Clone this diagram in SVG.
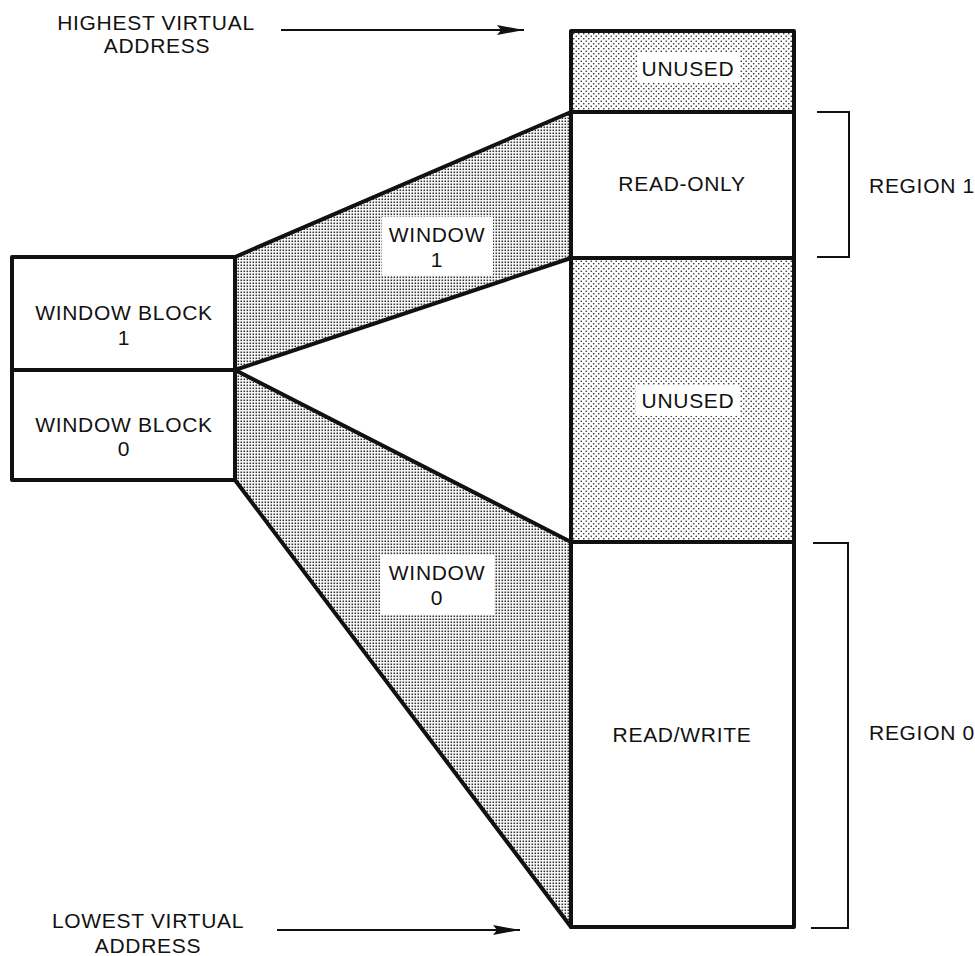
<svg xmlns="http://www.w3.org/2000/svg" width="975" height="956" viewBox="0 0 975 956">
<style>
text{font-family:"Liberation Sans",Arial,sans-serif;font-size:21px;fill:#111;text-anchor:middle;letter-spacing:0.7px}
.box{stroke:#111;stroke-width:4;stroke-linejoin:round}
.win{fill:url(#fine);stroke:#111;stroke-width:4;stroke-linejoin:round}
.br{fill:none;stroke:#111;stroke-width:2}
.arr{stroke:#111;stroke-width:2;fill:none;marker-end:url(#ah)}
.lbl{fill:#fff;stroke:none}
</style>
<defs>
<pattern id="coarse" patternUnits="userSpaceOnUse" width="5" height="5">
<rect width="5" height="5" fill="#fff"/>
<circle cx="1.25" cy="1.25" r="0.8" fill="#222"/>
<circle cx="3.75" cy="3.75" r="0.8" fill="#222"/>
</pattern>
<pattern id="fine" patternUnits="userSpaceOnUse" width="3" height="3">
<rect width="3" height="3" fill="#fff"/>
<rect x="0.5" y="0.5" width="1.6" height="1.6" fill="#333"/>
</pattern>
<marker id="ah" markerUnits="userSpaceOnUse" markerWidth="30" markerHeight="12" refX="27" refY="5" orient="auto">
<path d="M0,0 L27,5 L0,10 L4,5 Z" fill="#111"/>
</marker>
</defs>
<rect width="975" height="956" fill="#fff"/>

<g id="window-1">
<polygon class="win" points="235,257 571,112 571,258 235,370"/>
<rect class="lbl" x="382" y="217" width="111" height="58"/>
<text x="437" y="242">WINDOW</text>
<text x="437" y="267">1</text>
</g>
<g id="window-0">
<polygon class="win" points="235,370 571,542 571,927 235,480"/>
<rect class="lbl" x="380" y="555" width="114" height="60"/>
<text x="437" y="580">WINDOW</text>
<text x="437" y="605">0</text>
</g>

<g id="window-block-1">
<rect class="box" x="12" y="257" width="223" height="113" fill="#fff"/>
<text x="124" y="320">WINDOW BLOCK</text>
<text x="124" y="345">1</text>
</g>
<g id="window-block-0">
<rect class="box" x="12" y="370" width="223" height="110" fill="#fff"/>
<text x="124" y="432">WINDOW BLOCK</text>
<text x="124" y="456">0</text>
</g>

<g id="unused-top">
<rect class="box" x="571" y="31" width="223" height="81" fill="url(#coarse)"/>
<rect class="lbl" x="637" y="53" width="103" height="30"/>
<text x="688" y="76">UNUSED</text>
</g>
<g id="read-only">
<rect class="box" x="571" y="112" width="223" height="146" fill="#fff"/>
<text x="682" y="191">READ-ONLY</text>
</g>
<g id="unused-mid">
<rect class="box" x="571" y="258" width="223" height="284" fill="url(#coarse)"/>
<rect class="lbl" x="636" y="385" width="104" height="31"/>
<text x="688" y="408">UNUSED</text>
</g>
<g id="read-write">
<rect class="box" x="571" y="542" width="223" height="385" fill="#fff"/>
<text x="682" y="742">READ/WRITE</text>
</g>

<g id="region-1">
<polyline class="br" points="817,112 849,112 849,257 817,257"/>
<text x="922" y="193">REGION 1</text>
</g>
<g id="region-0">
<polyline class="br" points="813,543 848,543 848,928 811,928"/>
<text x="922" y="740">REGION 0</text>
</g>

<g id="highest-label">
<text x="156" y="30">HIGHEST VIRTUAL</text>
<text x="157" y="53">ADDRESS</text>
</g>
<g id="lowest-label">
<text x="148" y="928">LOWEST VIRTUAL</text>
<text x="148" y="953">ADDRESS</text>
</g>

<g id="connectors">
<line class="arr" x1="281" y1="30" x2="524" y2="30"/>
<line class="arr" x1="277" y1="930" x2="520" y2="930"/>
</g>
</svg>
